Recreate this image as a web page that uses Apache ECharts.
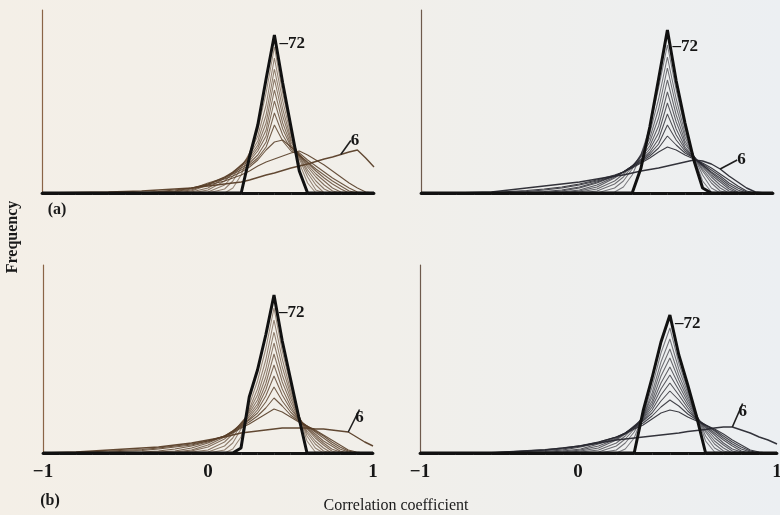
<!DOCTYPE html>
<html><head><meta charset="utf-8">
<script src="https://cdn.jsdelivr.net/npm/echarts@6/dist/echarts.min.js"></script>
<style>html,body{margin:0;padding:0;background:#f1eee9}#c{width:780px;height:515px}</style>
</head><body><div id="c"></div>
<script>
// ---------------- DATA ----------------
// correlation coefficient grid (x values shared by every curve)
const R = [-1,-0.8,-0.6,-0.4,-0.3,-0.2,-0.1,0,0.1,0.15,0.2,0.25,0.3,0.35,0.4,0.45,0.5,0.55,0.6,0.65,0.7,0.75,0.8,0.85,0.9,0.95,1];
const sampleSizes = [72,66,60,54,48,42,36,30,24,18,12,6];
const xTickValues = [-1,0,1];
const xTickLabels = ['\u22121','0','1'];

// (a) left panel – frequency heights
const aL72 = [0,0,0,0,0,0,0,0,0,0,0,36,68,114,158,110,66,22,0,0,0,0,0,0,0,0,0];
const aL66 = [0,0,0,0,0,0,0,0,0,5,18,40,63,100,146,100,62,30,10,0,0,0,0,0,0,0,0];
const aL60 = [0,0,0,0,0,0,0,0,4,12,25,40,57,88,135,92,58,34,16,3,0,0,0,0,0,0,0];
const aL54 = [0,0,0,0,0,0,0,1,8,17,27,38,52,78,124,84,54,36,20,8,0,0,0,0,0,0,0];
const aL48 = [0,0,0,0,0,0,0,3,12,20,28,36,48,70,114,77,51,37,23,12,4,0,0,0,0,0,0];
const aL42 = [0,0,0,0,0,0,1,5,15,21,28,34,45,63,103,70,48,38,26,16,8,2,0,0,0,0,0];
const aL36 = [0,0,0,0,0,0,2,8,16,21,27,32,42,57,92,64,46,38,28,19,12,5,1,0,0,0,0];
const aL30 = [0,0,0,0,0,1,3,9,16,20,25,30,38,51,80,58,44,38,30,22,15,9,4,0,0,0,0];
const aL24 = [0,0,0,0,0.5,1.5,4,10,15,19,23,28,35,46,68,52,42,38,31,24,18,12,7,2,0,0,0];
const aL18 = [0,0,0,0,1,2,5,9,14,17,21,26,33,43,51,53,46,40,33,27,21,15,10,5,1,0,0];
const aL12 = [0,0,0,0.5,1.5,3,5,8,12,15,18,22,27,31,34,37,40,42,38,33,28,22,16,10,5,1,0];
const aL6  = [0,0.5,1,2,3,4,5,7,9,10,11,13,15.5,18,20,22.5,25,27,29,31.5,34,36,38.5,41,43,35,26];

// (a) right panel
const aR72 = [0,0,0,0,0,0,0,0,0,0,0,25,66,114,163,112,70,33,5,0,0,0,0,0,0,0,0];
const aR66 = [0,0,0,0,0,0,0,0,1,6,18,38,66,105,148,103,65,36,12,1,0,0,0,0,0,0,0];
const aR60 = [0,0,0,0,0,0,0,0,5,12,24,39,60,94,136,94,60,37,18,5,0,0,0,0,0,0,0];
const aR54 = [0,0,0,0,0,0,0,2,9,16,26,38,55,84,125,86,56,37,22,10,2,0,0,0,0,0,0];
const aR48 = [0,0,0,0,0,0,1,4,12,19,27,37,51,75,113,78,52,37,24,13,5,0,0,0,0,0,0];
const aR42 = [0,0,0,0,0,0,2,6,15,21,27,36,47,67,101,71,49,37,26,16,8,2,0,0,0,0,0];
const aR36 = [0,0,0,0,0,1,3,8,16,21,27,34,44,60,90,64,46,36,27,18,11,4,0,0,0,0,0];
const aR30 = [0,0,0,0,0.5,2,5,10,17,21,27,33,41,54,79,58,44,36,28,20,13,6,1,0,0,0,0];
const aR24 = [0,0,0,0.5,1.5,3,6,11,17,21,26,32,39,49,68,53,42,35,28,21,15,8,3,0,0,0,0];
const aR18 = [0,0,0,1.5,3,5,8,12,17,21,26,31,37,45,57,48,40,35,29,23,17,10,5,1,0,0,0];
const aR12 = [0,0,0.5,2.5,4,6,9,13,18,21,25,30,35,41,46,43,38,34,30,25,19,13,7,2,0,0,0];
const aR6  = [0,0,1,5,7,9,11,14,17,18,20,22,23.5,25,27,29,31,33,32,29,24,17,11,5,1,0,0];

// (b) left panel
const bL72 = [0,0,0,0,0,0,0,0,0,0,5,56,83,118,158,112,74,36,0,0,0,0,0,0,0,0,0];
const bL66 = [0,0,0,0,0,0,0,0,0,4,16,48,72,104,145,102,68,38,12,1,0,0,0,0,0,0,0];
const bL60 = [0,0,0,0,0,0,0,0,3,10,24,44,64,93,133,94,63,38,17,5,0,0,0,0,0,0,0];
const bL54 = [0,0,0,0,0,0,0,1,7,15,28,42,58,84,121,86,59,37,20,9,2,0,0,0,0,0,0];
const bL48 = [0,0,0,0,0,0,1,3,11,19,30,40,53,76,110,78,55,36,22,12,5,0,0,0,0,0,0];
const bL42 = [0,0,0,0,0,0,2,6,14,21,30,38,49,69,99,71,51,35,24,15,8,2,0,0,0,0,0];
const bL36 = [0,0,0,0,0,1,3,8,16,22,29,36,46,63,88,64,47,34,25,17,10,4,1,0,0,0,0];
const bL30 = [0,0,0,0,1,2,5,10,17,22,28,34,43,57,77,58,44,34,26,19,12,7,2,0,0,0,0];
const bL24 = [0,0,0,1,2,4,7,11,17,22,27,33,40,51,66,52,41,33,27,21,15,9,4,1,0,0,0];
const bL18 = [0,0,1,2.5,4,6,8,12,17,21,26,31,37,45,55,47,38,32,27,22,17,11,6,2,0,0,0];
const bL12 = [0,0.5,2,3.5,5,7,9,12,17,20,25,29,34,39,44,41,36,31,27,23,18,13,8,3,1,0,0];
const bL6  = [0,1,3,5,6,8,10,13,16,18,20,21,22,23,24,25,25,25,25,24,24,23,22,21,16,11,7];

// (b) right panel
const bR72 = [0,0,0,0,0,0,0,0,0,0,0,42,75,111,138,98,68,36,0,0,0,0,0,0,0,0,0];
const bR66 = [0,0,0,0,0,0,0,0,0,4,15,38,66,100,125,90,63,38,12,1,0,0,0,0,0,0,0];
const bR60 = [0,0,0,0,0,0,0,0,3,10,21,37,60,91,114,84,60,38,17,5,0,0,0,0,0,0,0];
const bR54 = [0,0,0,0,0,0,0,1,7,14,24,37,56,84,104,78,57,37,21,9,2,0,0,0,0,0,0];
const bR48 = [0,0,0,0,0,0,1,3,10,17,26,36,52,77,95,73,54,37,23,12,5,0,0,0,0,0,0];
const bR42 = [0,0,0,0,0,0,2,5,13,19,27,35,49,70,86,68,51,36,25,15,8,2,0,0,0,0,0];
const bR36 = [0,0,0,0,0,1,3,7,14,20,27,34,46,64,78,63,48,35,26,18,10,4,1,0,0,0,0];
const bR30 = [0,0,0,0,0.5,2,4,9,15,20,26,33,43,58,70,58,45,34,27,20,13,7,2,0,0,0,0];
const bR24 = [0,0,0,0.5,1.5,3,6,10,16,20,26,32,40,52,62,53,42,34,28,22,15,9,4,1,0,0,0];
const bR18 = [0,0,0,1.5,2.5,4,7,11,16,20,25,30,37,46,53,47,39,33,28,23,17,11,6,2,0,0,0];
const bR12 = [0,0,0.5,2.5,3.5,5,7.5,11,16,19,24,28,34,40,43,41,36,32,28,24,19,13,8,3,1,0,0];
const bR6  = [0,0,0,2,3,5,7,10,13,14,15,16,17,18,19,20,21.5,22.5,23.5,25,26,26,23,20,16,13,9];

// ---------------- LAYOUT / STYLE ----------------
const SERIF = 'Liberation Serif, Times New Roman, serif';
const panels = [
  {curves:[aL72,aL66,aL60,aL54,aL48,aL42,aL36,aL30,aL24,aL18,aL12,aL6], grid:{left:42,top:10,width:332,height:183}, ymax:183, labels:false, thin:'88,62,40', axisCol:'#8a6446', off72:[0,9], lab6:{r:0.8, dx:10, dy:-14}},
  {curves:[aR72,aR66,aR60,aR54,aR48,aR42,aR36,aR30,aR24,aR18,aR12,aR6], grid:{left:421,top:10,width:352,height:183}, ymax:183, labels:false, thin:'40,40,48', axisCol:'#6e5a4c', off72:[0,17], lab6:{r:0.7, dx:17, dy:-9}},
  {curves:[bL72,bL66,bL60,bL54,bL48,bL42,bL36,bL30,bL24,bL18,bL12,bL6], grid:{left:43,top:265,width:330,height:188}, ymax:188, labels:true, zeroShift:0, thin:'88,62,40', axisCol:'#8a6446', off72:[0,18], lab6:{r:0.85, dx:7, dy:-14}},
  {curves:[bR72,bR66,bR60,bR54,bR48,bR42,bR36,bR30,bR24,bR18,bR12,bR6], grid:{left:420,top:265,width:357,height:188}, ymax:188, labels:true, zeroShift:41, thin:'40,40,48', axisCol:'#6e5a4c', off72:[0,9], lab6:{r:0.75, dx:6, dy:-15}}
];

const grids=[], xAxes=[], yAxes=[], series=[];
const txt = {fontFamily:SERIF, fontSize:17, fontWeight:'bold', color:'#161616'};

panels.forEach((p, gi) => {
  grids.push(Object.assign({outerBoundsMode:'none', containLabel:false}, p.grid));
  xAxes.push({
    type:'value', gridIndex:gi, min:-1, max:1, interval:1,
    axisLine:{show:true, onZero:false, lineStyle:{color:'#141414', width:2.8}},
    axisTick:{show:false},
    minorTick:{show:true, splitNumber:10, length:2, lineStyle:{color:'#333', width:1}},
    splitLine:{show:false}, minorSplitLine:{show:false},
    axisLabel:{show:p.labels, margin:10, fontFamily:SERIF, fontSize:19, fontWeight:'bold', color:'#161616',
      formatter:(v)=>{const k = xTickValues.indexOf(Math.round(v)); const s = xTickLabels[k]; return (Math.round(v)===0 && p.zeroShift) ? '{z|'+s+'}' : s;},
      rich:{z:{fontFamily:SERIF, fontSize:19, fontWeight:'bold', color:'#161616', padding:[0,p.zeroShift||0,0,0]}}}
  });
  yAxes.push({
    type:'value', gridIndex:gi, min:0, max:p.ymax,
    axisLine:{show:true, onZero:false, lineStyle:{color:p.axisCol, width:1.2}},
    axisTick:{show:false}, axisLabel:{show:false}, splitLine:{show:false}
  });
  p.curves.forEach((h, k) => {
    const n = sampleSizes[k];
    const is72 = n === 72, is6 = n === 6;
    const data = R.map((r, i) => {
      const item = {value:[r, h[i]]};
      if (is72 && r === 0.4) {
        item.label = Object.assign({show:true, position:'right', distance:5, offset:p.off72, formatter:'\u201372'}, txt);
      }
      if (is6 && r === p.lab6.r) {
        item.label = Object.assign({show:true, position:'right', distance:0, formatter:'6'}, txt);
        item.labelLine = {show:true, lineStyle:{color:'#1e1e1e', width:1.6}};
      }
      return item;
    });
    const alpha = is6 ? 0.95 : (0.55 + 0.035*k);
    series.push({
      type:'line', xAxisIndex:gi, yAxisIndex:gi, name:'n='+n, data,
      symbol:'circle', symbolSize:0, showSymbol:true, showAllSymbol:true,
      silent:true, clip:false, z: is72 ? 5 : 3,
      lineStyle: is72 ? {color:'#111', width:3} : {color:'rgba('+p.thin+','+alpha+')', width: is6 ? 1.4 : 1.05},
      itemStyle:{color: is72 ? '#111' : 'rgba('+p.thin+',1)'},
      labelLayout: is6 ? {dx:p.lab6.dx, dy:p.lab6.dy} : undefined,
      emphasis:{disabled:true}
    });
  });
});

const chart = echarts.init(document.getElementById('c'), null, {renderer:'canvas'});
chart.setOption({
  animation:false,
  backgroundColor:new echarts.graphic.LinearGradient(0,0,1,0,[{offset:0,color:'#f4efe7'},{offset:0.5,color:'#f1efea'},{offset:1,color:'#eceff2'}]),
  grid:grids, xAxis:xAxes, yAxis:yAxes, series,
  graphic:[
    {type:'text', x:13, y:237, rotation:Math.PI/2, style:{text:'Frequency', font:'bold 16px '+SERIF, fill:'#1a1a1a', textAlign:'center', textVerticalAlign:'middle'}},
    {type:'text', x:57, y:210, style:{text:'(a)', font:'bold 16px '+SERIF, fill:'#1a1a1a', textAlign:'center', textVerticalAlign:'middle'}},
    {type:'text', x:50, y:501, style:{text:'(b)', font:'bold 16px '+SERIF, fill:'#1a1a1a', textAlign:'center', textVerticalAlign:'middle'}},
    {type:'text', x:396, y:506, style:{text:'Correlation coefficient', font:'16px '+SERIF, fill:'#1a1a1a', textAlign:'center', textVerticalAlign:'middle'}}
  ]
});
</script></body></html>
